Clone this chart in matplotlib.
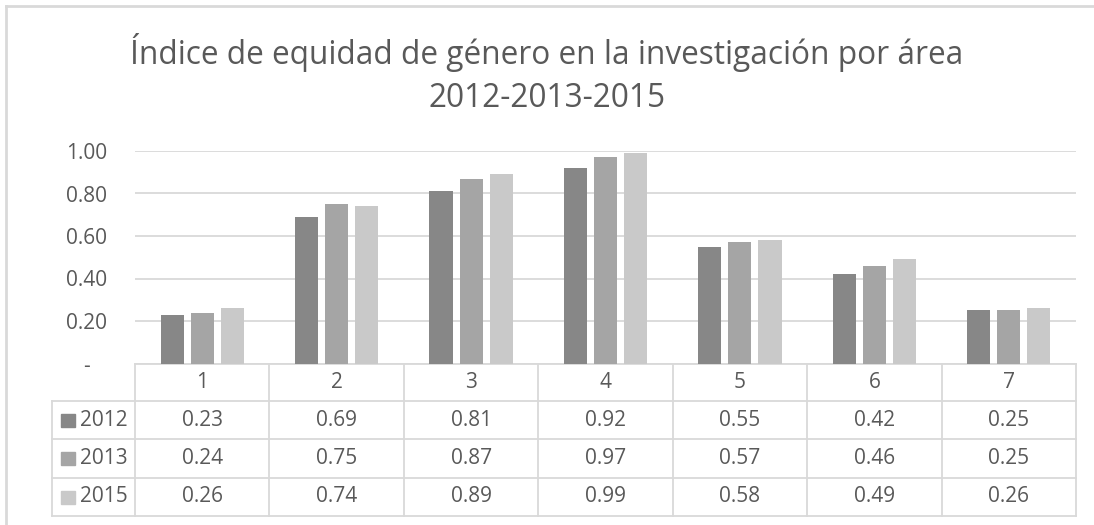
import matplotlib
matplotlib.use("Agg")
import matplotlib.pyplot as plt
from matplotlib.patches import Rectangle
import numpy as np

# datos
areas = ["1", "2", "3", "4", "5", "6", "7"]
years = ["2012", "2013", "2015"]
v2012 = [0.23, 0.69, 0.81, 0.92, 0.55, 0.42, 0.25]
v2013 = [0.24, 0.75, 0.87, 0.97, 0.57, 0.46, 0.25]
v2015 = [0.26, 0.74, 0.89, 0.99, 0.58, 0.49, 0.26]
series = [v2012, v2013, v2015]
colores = ["#878787", "#a5a5a5", "#c9c9c9"]
yticks = [0, 0.2, 0.4, 0.6, 0.8, 1.0]
ylabels = ["-   ", "0.20", "0.40", "0.60", "0.80", "1.00"]

plt.rcParams["font.family"] = ["Open Sans", "DejaVu Sans"]
txt = "#595959"
lin = "#d9d9d9"
fs = 15

W, H = 1094, 525
fig = plt.figure(figsize=(W / 100, H / 100), dpi=100)

def fx(px):
    return px / W

def fy(py):
    return 1 - py / H

# marco del grafico
fig.add_artist(plt.Line2D([fx(6), fx(6)], [fy(6), 0], color=lin, lw=2))
fig.add_artist(plt.Line2D([fx(6), 1], [fy(6), fy(6)], color=lin, lw=2))

# titulo
fig.text(0.5, fy(64), "Índice de equidad de género en la investigación por área",
         ha="center", va="baseline", fontsize=22.8, color=txt)
fig.text(0.5, fy(107), "2012-2013-2015", ha="center", va="baseline", fontsize=22.8, color=txt)

x0, x1 = 135, 1076
y_top, y_zero = 151, 363.5
ax = fig.add_axes([fx(x0), fy(y_zero), fx(x1 - x0), (y_zero - y_top) / H])

x = np.arange(len(areas))
ancho = 0.172
paso = 0.224
for i, (vals, c) in enumerate(zip(series, colores)):
    ax.bar(x + (i - 1) * paso, vals, width=ancho, color=c, zorder=3)

ax.set_xlim(-0.5, len(areas) - 0.5)
ax.set_ylim(0, 1.0)
ax.set_yticks(yticks)
ax.set_yticklabels(ylabels, fontsize=fs, color=txt)
ax.set_xticks([])
ax.grid(axis="y", color=lin, lw=1.3, zorder=0)
ax.tick_params(axis="y", length=0, pad=20)
for s in ["top", "right", "left"]:
    ax.spines[s].set_visible(False)
ax.spines["bottom"].set_color(lin)
ax.spines["bottom"].set_linewidth(1.3)

# tabla de datos
filas = [363.5, 401, 439, 478, 516]
xl = 52
for yy in filas[1:]:
    fig.add_artist(plt.Line2D([fx(xl), fx(x1)], [fy(yy), fy(yy)], color=lin, lw=1.3))
fig.add_artist(plt.Line2D([fx(xl), fx(xl)], [fy(filas[1]), fy(filas[-1])], color=lin, lw=1.3))
col_w = (x1 - x0) / len(areas)
for k in range(len(areas) + 1):
    xx = x0 + k * col_w
    fig.add_artist(plt.Line2D([fx(xx), fx(xx)], [fy(filas[0]), fy(filas[-1])], color=lin, lw=1.3))

for k, a in enumerate(areas):
    cx = x0 + (k + 0.5) * col_w
    fig.text(fx(cx), fy((filas[0] + filas[1]) / 2), a, ha="center", va="center",
             fontsize=fs, color=txt)
    for r, vals in enumerate(series):
        fig.text(fx(cx), fy((filas[r + 1] + filas[r + 2]) / 2), f"{vals[k]:.2f}",
                 ha="center", va="center", fontsize=fs, color=txt)

for r, (yr, c) in enumerate(zip(years, colores)):
    cy = (filas[r + 1] + filas[r + 2]) / 2
    fig.add_artist(Rectangle((fx(61), fy(cy + 6.5)), fx(14), 13 / H, color=c))
    fig.text(fx(80), fy(cy), yr, ha="left", va="center", fontsize=fs, color=txt)

fig.savefig("out.png", dpi=100)
